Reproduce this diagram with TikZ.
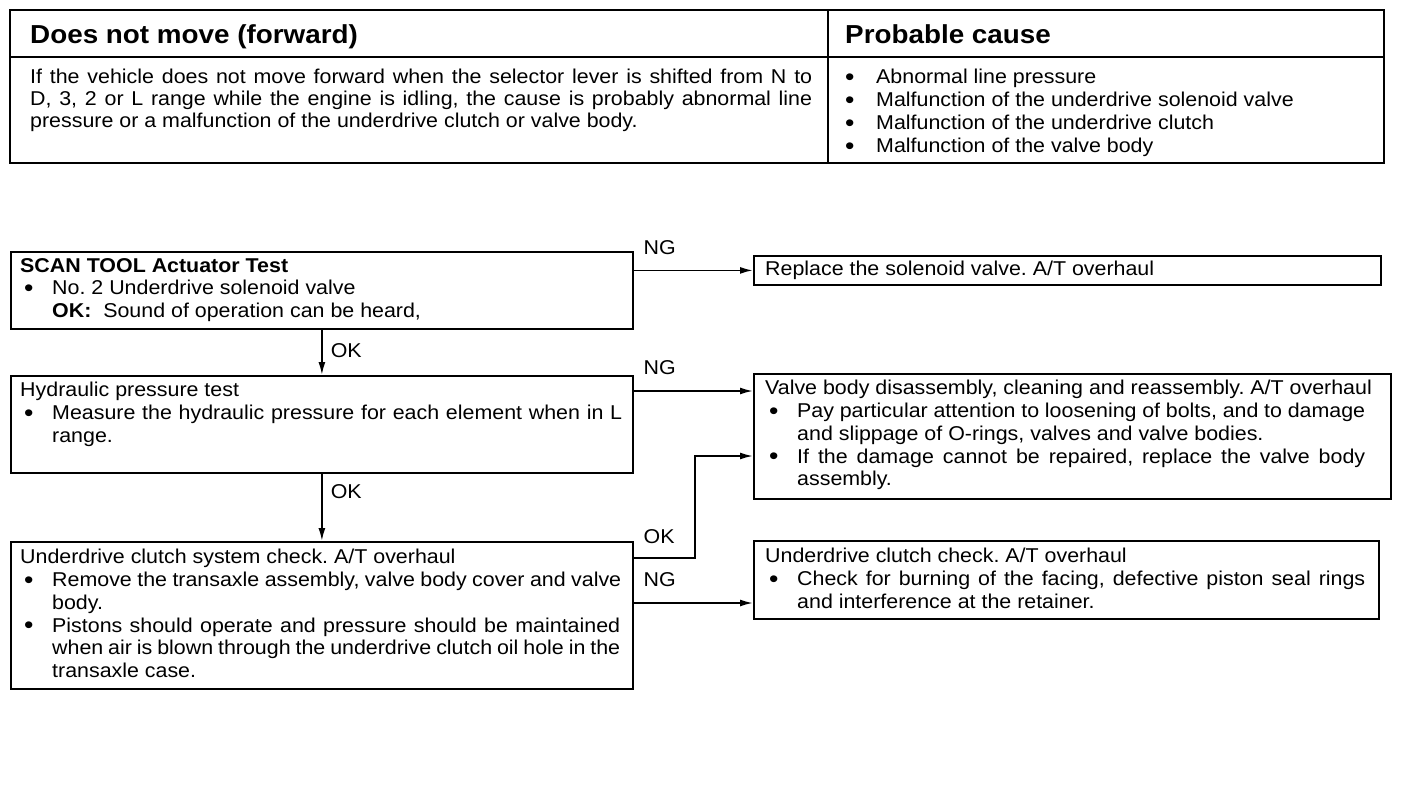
\documentclass[tikz,border=0pt]{standalone}
\usepackage{fontspec}
\setmainfont[FakeStretch=1.07]{Liberation Sans}
\usetikzlibrary{arrows.meta}
\frenchspacing

\newcommand{\bigdot}{\raisebox{-1.5pt}{\fontsize{25}{0}\selectfont\textbullet}}
\newcommand{\bul}{\makebox[32pt][l]{\hspace{4pt}\bigdot}}
\newcommand{\ind}{\hspace*{32pt}}
\newcommand{\tbul}{\makebox[31pt][l]{\bigdot}}
\newcommand{\jl}[2]{\makebox[#1][s]{#2}}

\begin{document}
\begin{tikzpicture}[x=1pt,y=-1pt,>=Latex,
  tbl/.style={line width=2pt},
  box/.style={draw, line width=1.8pt, inner sep=0pt, anchor=north west},
  head/.style={anchor=north west, inner sep=0pt, font=\fontsize{26}{30}\selectfont\bfseries},
  txt/.style={anchor=north west, inner sep=0pt, align=left, font=\fontsize{20}{22.8}\selectfont},
  lbl/.style={inner sep=0pt, font=\fontsize{20}{22}\selectfont},
  arr/.style={-{Latex[length=13pt,width=7pt]}, line width=1.8pt}]
\useasboundingbox (0,0) rectangle (1408,796);

% table on top
\draw[tbl] (10,10) rectangle (1384,163);
\draw[tbl] (10,57) -- (1384,57);
\draw[tbl] (828,10) -- (828,163);
\node[head] (hMove) at (30,24) {Does not move (forward)};
\node[head] (hCause) at (845,24) {Probable cause};
\node[txt, font=\fontsize{20}{22}\selectfont] (desc) at (30,69)
  {\jl{782pt}{If the vehicle does not move forward when the selector lever is shifted from N to}\\
   \jl{782pt}{D, 3, 2 or L range while the engine is idling, the cause is probably abnormal line}\\
   pressure or a malfunction of the underdrive clutch or valve body.};
\node[txt, font=\fontsize{20}{23}\selectfont] (causes) at (845,69)
  {\tbul Abnormal line pressure\\
   \tbul Malfunction of the underdrive solenoid valve\\
   \tbul Malfunction of the underdrive clutch\\
   \tbul Malfunction of the valve body};

% flow boxes
\node[box, minimum width=622pt, minimum height=77pt] (scan) at (10,251) {};
\node[box, minimum width=627pt, minimum height=29pt] (rep) at (753,255) {};
\node[box, minimum width=622pt, minimum height=97pt] (hyd) at (10,375) {};
\node[box, minimum width=637pt, minimum height=125pt] (valve) at (753,373) {};
\node[box, minimum width=622pt, minimum height=147pt] (clutch) at (10,541) {};
\node[box, minimum width=625pt, minimum height=78pt] (udc) at (753,540) {};

\node[txt] (scanT) at ([xshift=10pt,yshift=-7pt]scan.north west)
  {\textbf{SCAN TOOL Actuator Test}\\
   \bul No. 2 Underdrive solenoid valve\\
   \ind\textbf{OK:}\ \ Sound of operation can be heard,};
\node[txt] (repT) at ([xshift=12pt,yshift=-6pt]rep.north west)
  {Replace the solenoid valve. A/T overhaul};
\node[txt] (hydT) at ([xshift=10pt,yshift=-7pt]hyd.north west)
  {Hydraulic pressure test\\
   \bul\jl{570pt}{Measure the hydraulic pressure for each element when in L}\\
   \ind range.};
\node[txt] (valveT) at ([xshift=12pt,yshift=-7pt]valve.north west)
  {Valve body disassembly, cleaning and reassembly. A/T overhaul\\
   \bul\jl{568pt}{Pay particular attention to loosening of bolts, and to damage}\\
   \ind and slippage of O-rings, valves and valve bodies.\\
   \bul\jl{568pt}{If the damage cannot be repaired, replace the valve body}\\
   \ind assembly.};
\node[txt] (clutchT) at ([xshift=10pt,yshift=-8pt]clutch.north west)
  {Underdrive clutch system check. A/T overhaul\\
   \bul\jl{569pt}{Remove the transaxle assembly, valve body cover and valve}\\
   \ind body.\\
   \bul\jl{568pt}{Pistons should operate and pressure should be maintained}\\
   \ind\jl{568pt}{when air is blown through the underdrive clutch oil hole in the}\\
   \ind transaxle case.};
\node[txt] (udcT) at ([xshift=12pt,yshift=-8pt]udc.north west)
  {Underdrive clutch check. A/T overhaul\\
   \bul\jl{568pt}{Check for burning of the facing, defective piston seal rings}\\
   \ind and interference at the retainer.};

% entry points
\coordinate (vIn1) at ([yshift=-18pt]valve.north west);
\coordinate (vIn2) at ([yshift=-83pt]valve.north west);
\coordinate (cOk) at ([yshift=-17pt]clutch.north east);
\coordinate (uIn) at ([yshift=-63pt]udc.north west);

% connectors
\draw[arr] (rep.west -| scan.east)
  node[lbl, anchor=south west, xshift=9pt, yshift=15pt] (ng1) {NG} -- (rep.west);
\draw[arr] (scan.south) -- node[lbl, pos=0.45, anchor=west, xshift=8pt] (ok1) {OK} (hyd.north);
\draw[arr] (vIn1 -| hyd.east)
  node[lbl, anchor=south west, xshift=9pt, yshift=15pt] (ng2) {NG} -- (vIn1);
\draw[arr] (hyd.south) -- node[lbl, pos=0.26, anchor=west, xshift=8pt] (ok2) {OK} (clutch.north);
\draw[arr] (cOk)
  node[lbl, anchor=south west, xshift=9pt, yshift=13pt] (ok3) {OK} -- ++(61,0) |- (vIn2);
\draw[arr] (uIn -| clutch.east)
  node[lbl, anchor=south west, xshift=9pt, yshift=15pt] (ng3) {NG} -- (uIn);
\end{tikzpicture}
\end{document}
